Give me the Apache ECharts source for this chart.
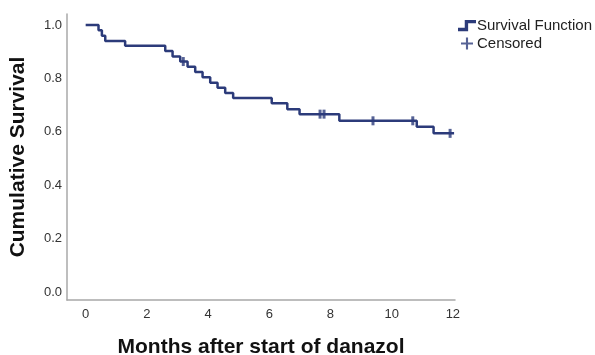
<!DOCTYPE html>
<html>
<head>
<meta charset="utf-8">
<style>
  html, body { margin: 0; padding: 0; background: #fff; }
  #chart { width: 595px; height: 355px; }
</style>
<script src="https://cdn.jsdelivr.net/npm/echarts@6/dist/echarts.min.js"></script>
</head>
<body>
<div id="chart"></div>
<script>
// Kaplan-Meier estimate: survival after each event time (months)
const eventTimes = [0, 0.42, 0.53, 0.64, 1.29, 2.60, 2.84, 3.09, 3.33, 3.58, 3.82, 4.07, 4.31, 4.56, 4.82, 6.08, 6.59, 6.99, 8.29, 10.82, 11.37, 12.04];
const survival   = [1.0, 0.98, 0.96, 0.94, 0.922, 0.902, 0.882, 0.863, 0.843, 0.824, 0.804, 0.784, 0.765, 0.745, 0.726, 0.707, 0.684, 0.666, 0.641, 0.619, 0.594, 0.594];
// Censored observations (months)
const censorTimes = [3.19, 7.66, 7.79, 9.39, 10.69, 11.91];
const xTicks = [0, 2, 4, 6, 8, 10, 12];
const yTicks = [0.0, 0.2, 0.4, 0.6, 0.8, 1.0];

const navy = '#2c3b7a';

// survival level in force at time t (step function lookup)
function survivalAt(t) {
  let s = survival[0];
  for (let i = 0; i < eventTimes.length; i++) {
    if (eventTimes[i] <= t) s = survival[i];
  }
  return s;
}

const curveData = eventTimes.map((t, i) => [t, survival[i]]);
const censorData = censorTimes.map(t => [t, survivalAt(t)]);

const stepIcon = 'path://M0,7 H6 V0 H16 V3 H9 V10 H0 Z';
const plusIcon = 'path://M7,0 H10 V7 H17 V10 H10 V17 H7 V10 H0 V7 H7 Z';

const chart = echarts.init(document.getElementById('chart'), null, { renderer: 'canvas' });
chart.setOption({
  animation: false,
  textStyle: { fontFamily: 'Liberation Sans, Arial, sans-serif' },
  grid: { left: 67, right: 140, top: 14, bottom: 55, containLabel: false, outerBoundsMode: 'none' },
  legend: {
    orient: 'vertical',
    left: 453,
    top: 13,
    itemGap: 3,
    itemWidth: 18,
    itemHeight: 12,
    textStyle: { fontSize: 15, color: '#222', padding: [0, 0, 0, -4] },
    data: [
      { name: 'Survival Function', icon: stepIcon },
      { name: 'Censored', icon: plusIcon }
    ]
  },
  xAxis: {
    type: 'value',
    min: -0.61,
    max: 12.07,
    interval: 2,
    name: 'Months after start of danazol',
    nameLocation: 'middle',
    nameGap: 37,
    nameTextStyle: { fontSize: 21, fontWeight: 'bold', color: '#111' },
    axisLine: { show: true, onZero: false, lineStyle: { color: '#a8a8a8', width: 1.5 } },
    axisTick: { show: false },
    splitLine: { show: false },
    axisLabel: {
      fontSize: 13, color: '#333', margin: 8,
      customValues: xTicks,
      formatter: v => String(v)
    }
  },
  yAxis: {
    type: 'value',
    min: -0.03,
    max: 1.041,
    name: 'Cumulative Survival',
    nameLocation: 'middle',
    nameGap: 38,
    nameTextStyle: { fontSize: 21, fontWeight: 'bold', color: '#111' },
    axisLine: { show: true, onZero: false, lineStyle: { color: '#a8a8a8', width: 1.5 } },
    axisTick: { show: false },
    splitLine: { show: false },
    axisLabel: {
      fontSize: 13, color: '#333', margin: 5,
      customValues: yTicks,
      formatter: v => v.toFixed(1)
    }
  },
  series: [
    {
      name: 'Survival Function',
      type: 'line',
      step: 'end',
      data: curveData,
      showSymbol: false,
      lineStyle: { color: navy, width: 2.5 },
      itemStyle: { color: navy },
      z: 2
    },
    {
      name: 'Censored',
      type: 'scatter',
      data: censorData,
      symbol: 'rect',
      symbolSize: [3, 9],
      itemStyle: { color: navy },
      z: 3
    }
  ]
});
</script>
</body>
</html>
